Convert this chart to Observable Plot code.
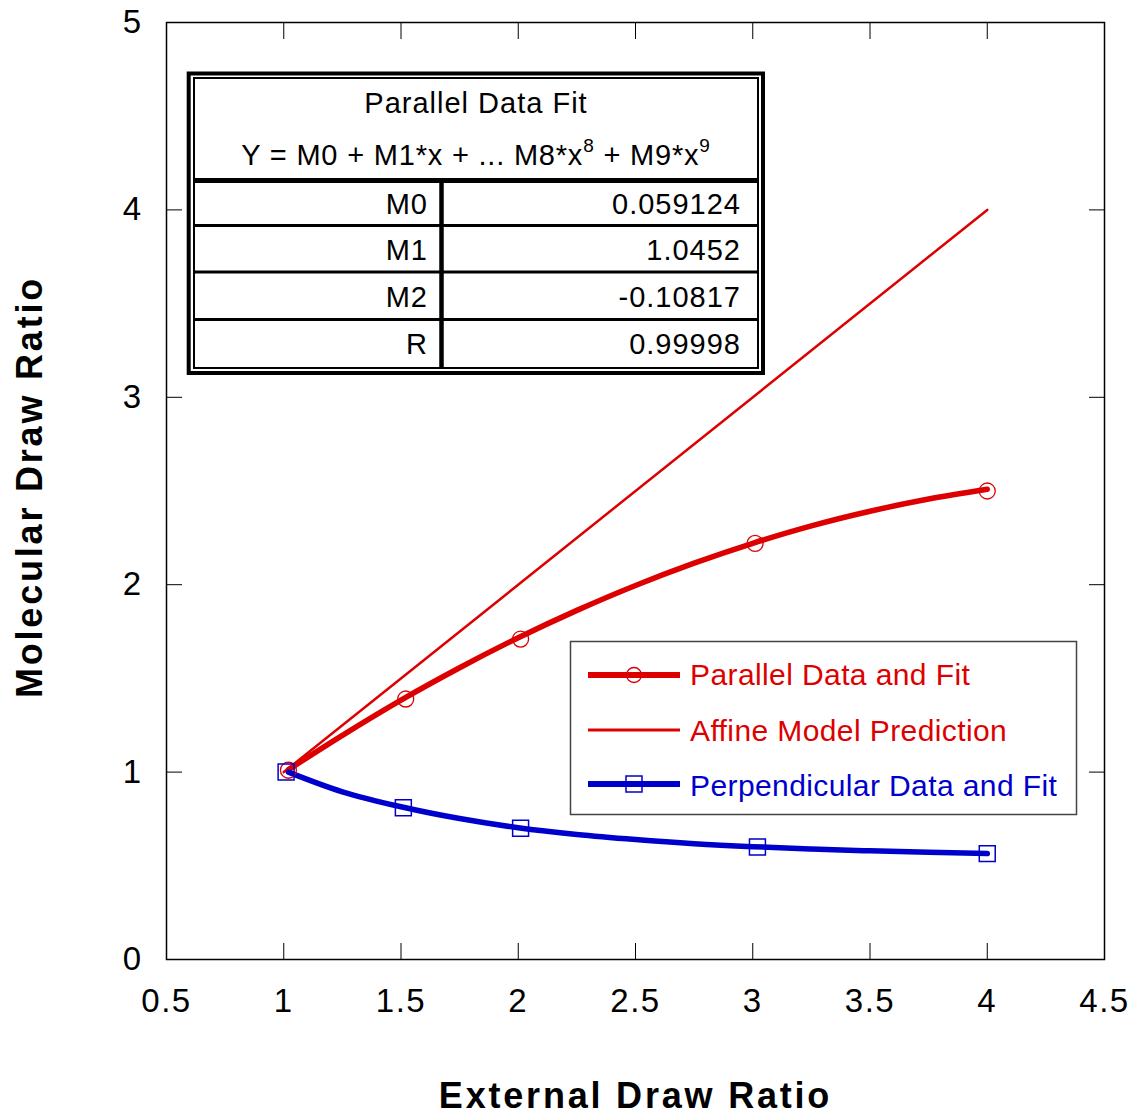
<!DOCTYPE html>
<html><head><meta charset="utf-8">
<script src="https://cdn.jsdelivr.net/npm/d3@7"></script>
<script src="https://cdn.jsdelivr.net/npm/@observablehq/plot@0.6"></script>
<style>
html,body{margin:0;padding:0;background:#fff;}
#chart{width:1136px;height:1118px;}
</style></head><body><div id="chart"></div>
<script>
// ---- data ----
const xTicks = [0.5, 1, 1.5, 2, 2.5, 3, 3.5, 4, 4.5];
const yTicks = [0, 1, 2, 3, 4, 5];
const xTitle = "External Draw Ratio";
const yTitle = "Molecular Draw Ratio";

// measured data points
const parX = [1.02, 1.52, 2.01, 3.01, 4.0];
const parY = [1.01, 1.39, 1.71, 2.22, 2.50];
const perX = [1.01, 1.51, 2.01, 3.02, 4.0];
const perY = [1.00, 0.81, 0.70, 0.60, 0.565];

// fitted curves
const fitX    = [1.02, 1.25, 1.5, 1.75, 2.0, 2.25, 2.5, 2.75, 3.0, 3.25, 3.5, 3.75, 4.0];
const parFitY = [1.013, 1.196, 1.384, 1.557, 1.717, 1.863, 1.996, 2.115, 2.221, 2.314, 2.392, 2.457, 2.509];
const perFitY = [1.0, 0.895, 0.815, 0.752, 0.703, 0.667, 0.64, 0.618, 0.602, 0.59, 0.58, 0.572, 0.565];

// affine model prediction
const affX = [1.0, 4.0];
const affY = [1.0, 4.0];

// fit table
const tableTitle = "Parallel Data Fit";
const tableRowNames = ["M0", "M1", "M2", "R"];
const tableRowValues = ["0.059124", "1.0452", "-0.10817", "0.99998"];

// legend
const legendLabels = ["Parallel Data and Fit", "Affine Model Prediction", "Perpendicular Data and Fit"];

// ---- styles ----
const RED = "#dd0000", BLUE = "#0000cc";
const FONT = "'Liberation Sans', Arial, Helvetica, sans-serif";

const zip = (xs, ys) => xs.map((x, i) => ({x, y: ys[i]}));
const parData = zip(parX, parY);
const perData = zip(perX, perY);
const parFit = zip(fitX, parFitY);
const perFit = zip(fitX, perFitY);
const aff = zip(affX, affY);

const chart = Plot.plot({
  width: 1136, height: 1118,
  marginLeft: 166, marginRight: 32, marginTop: 22, marginBottom: 159,
  style: {fontFamily: FONT, background: "#fff", color: "#000", overflow: "visible"},
  x: {domain: [0.5, 4.5]},
  y: {domain: [0, 5]},
  marks: [
    Plot.line(aff, {x: "x", y: "y", stroke: RED, strokeWidth: 2.5}),
    Plot.line(parFit, {x: "x", y: "y", stroke: RED, strokeWidth: 5.5, curve: "catmull-rom"}),
    Plot.line(perFit, {x: "x", y: "y", stroke: BLUE, strokeWidth: 5.5, curve: "catmull-rom"}),
    Plot.dot(parData, {x: "x", y: "y", r: 8, symbol: "circle", stroke: RED, strokeWidth: 1.3, fill: "none"}),
    Plot.dot(perData, {x: "x", y: "y", r: 9, symbol: "square", stroke: BLUE, strokeWidth: 1.5, fill: "none"}),
    Plot.frame({stroke: "#000", strokeWidth: 1.5}),
    Plot.axisX({anchor: "bottom", ticks: xTicks, tickSize: -16, tickFormat: () => "", label: null}),
    Plot.axisX({anchor: "top", ticks: xTicks, tickSize: -16, tickFormat: () => "", label: null}),
    Plot.axisY({anchor: "left", ticks: yTicks, tickSize: -16, tickFormat: () => "", label: null}),
    Plot.axisY({anchor: "right", ticks: yTicks, tickSize: -16, tickFormat: () => "", label: null}),
    Plot.axisX({anchor: "bottom", ticks: xTicks, tickSize: 0, tickPadding: 29, fontSize: 33, tickFormat: d => String(d), label: null}),
    Plot.axisY({anchor: "left", ticks: yTicks, tickSize: 0, tickPadding: 24, fontSize: 33, tickFormat: d => String(d), label: null}),
    Plot.text([xTitle], {text: d => d, frameAnchor: "bottom", dy: 148, lineAnchor: "bottom", textAnchor: "middle", fontSize: 36, fontWeight: "bold", fill: "#000"}),
    Plot.text([yTitle], {text: d => d, frameAnchor: "left", dx: -125, dy: -4, rotate: -90, lineAnchor: "bottom", textAnchor: "middle", fontSize: 36, fontWeight: "bold", fill: "#000"})
  ]
});

document.getElementById("chart").appendChild(chart);
const svg = d3.select(chart);

// letter spacing tweaks
svg.selectAll('[aria-label="x-axis tick label"] text, [aria-label="y-axis tick label"] text').style("letter-spacing", "1.5px");
svg.selectAll('[aria-label="text"] text').style("letter-spacing", "2.8px");

// ---- fit table (annotation) ----
const tg = svg.append("g").attr("font-family", FONT).attr("fill", "#000");
tg.append("rect").attr("x", 188.7).attr("y", 73.5).attr("width", 763 - 188.7).attr("height", 373 - 73.5)
  .attr("fill", "#fff").attr("stroke", "#000").attr("stroke-width", 4);
tg.append("rect").attr("x", 194).attr("y", 78).attr("width", 758 - 194).attr("height", 368 - 78)
  .attr("fill", "none").attr("stroke", "#000").attr("stroke-width", 2);
tg.append("line").attr("x1", 194).attr("x2", 758).attr("y1", 180.5).attr("y2", 180.5).attr("stroke", "#000").attr("stroke-width", 5);
[225.5, 272, 319.5].forEach(y => tg.append("line").attr("x1", 194).attr("x2", 758).attr("y1", y).attr("y2", y).attr("stroke", "#000").attr("stroke-width", 3));
tg.append("line").attr("x1", 441.5).attr("x2", 441.5).attr("y1", 180).attr("y2", 368).attr("stroke", "#000").attr("stroke-width", 4.5);
tg.append("text").attr("x", 476).attr("y", 113).attr("text-anchor", "middle").attr("font-size", 29).style("letter-spacing", "1px").text(tableTitle);
const ft = tg.append("text").attr("x", 476).attr("y", 165).attr("text-anchor", "middle").attr("font-size", 29).style("letter-spacing", "0.8px");
ft.append("tspan").text("Y = M0 + M1*x + ... M8*x");
ft.append("tspan").attr("dy", -13).attr("font-size", 19).text("8");
ft.append("tspan").attr("dy", 13).text(" + M9*x");
ft.append("tspan").attr("dy", -13).attr("font-size", 19).text("9");
const rowBase = [214, 260, 307, 354];
tableRowNames.forEach((n, i) => {
  tg.append("text").attr("x", 428).attr("y", rowBase[i]).attr("text-anchor", "end").attr("font-size", 29).style("letter-spacing", "1px").text(n);
  tg.append("text").attr("x", 741).attr("y", rowBase[i]).attr("text-anchor", "end").attr("font-size", 29).style("letter-spacing", "1px").text(tableRowValues[i]);
});

// ---- legend (annotation) ----
const lg = svg.append("g").attr("font-family", FONT);
lg.append("rect").attr("x", 570.5).attr("y", 641.5).attr("width", 506).attr("height", 173)
  .attr("fill", "#fff").attr("stroke", "#444").attr("stroke-width", 1.5);
const legendY = [675, 730, 784];
const legendBase = [685, 741, 796];
const legendColor = [RED, RED, BLUE];
const legendW = [6, 3, 6];
legendLabels.forEach((lab, i) => {
  lg.append("line").attr("x1", 588).attr("x2", 680).attr("y1", legendY[i]).attr("y2", legendY[i])
    .attr("stroke", legendColor[i]).attr("stroke-width", legendW[i]);
  lg.append("text").attr("x", 690).attr("y", legendBase[i]).attr("text-anchor", "start").attr("font-size", 30).attr("fill", legendColor[i])
    .style("letter-spacing", "0.4px").text(lab);
});
lg.append("circle").attr("cx", 634).attr("cy", 675).attr("r", 7.5).attr("fill", "none").attr("stroke", RED).attr("stroke-width", 1.3);
lg.append("rect").attr("x", 626).attr("y", 776).attr("width", 16).attr("height", 16).attr("fill", "none").attr("stroke", BLUE).attr("stroke-width", 1.5);
</script>
</body></html>
